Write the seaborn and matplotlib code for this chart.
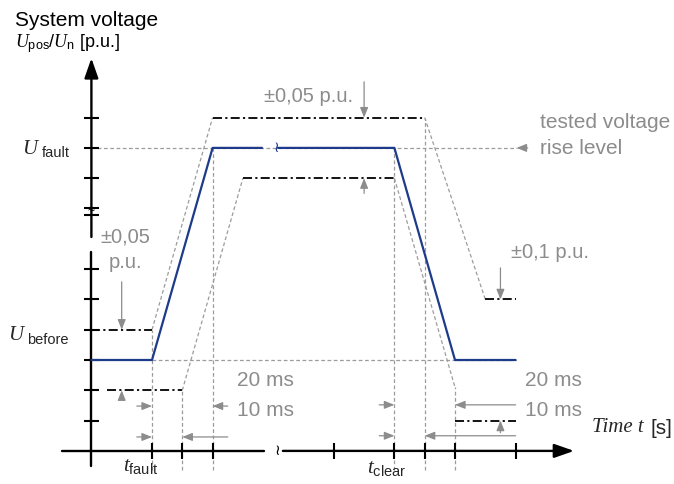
"""Voltage ride-through test profile (system voltage vs time) drawn with seaborn."""

import matplotlib

matplotlib.use("Agg")

import matplotlib.pyplot as plt
import pandas as pd
import seaborn as sns

# Time axis is drawn compressed (ms): t_fault sits at 0, t_clear is drawn at 80.
# Voltage in p.u. with U_before = 1.00 and U_fault drawn at 1.35 (axis broken).
voltage_time = [-20, 0, 20, 36.3, 41.6, 80, 100, 120]
voltage_level = [1.00, 1.00, 1.35, 1.35, 1.35, 1.35, 1.00, 1.00]
voltage_piece = [0, 0, 0, 0, 1, 1, 1, 1]

upper_time = [-20, 0, 20, 90, 110, 120]
upper_level = [1.05, 1.05, 1.40, 1.40, 1.10, 1.10]
upper_piece = [0, 0, 1, 1, 2, 2]

lower_time = [-15, 10, 30, 80, 100, 120]
lower_level = [0.95, 0.95, 1.30, 1.30, 0.90, 0.90]
lower_piece = [0, 0, 1, 1, 2, 2]

ramp_t0 = [0, 10, 90, 80]
ramp_u0 = [1.05, 0.95, 1.40, 1.30]
ramp_t1 = [20, 30, 110, 100]
ramp_u1 = [1.40, 1.30, 1.10, 0.955]

marker_time = [0, 10, 20, 80, 90, 100]
marker_top = [1.05, 0.95, 1.35, 1.35, 1.40, 0.955]
marker_bottom = 0.818

ref_level = [1.35, 1.00]
ref_start = [-20, 0]
ref_end = [120.5, 120]

y_ticks = [0.90, 0.95, 1.00, 1.05, 1.10, 1.15, 1.30, 1.35, 1.40]
x_ticks = [0, 10, 20, 60, 80, 90, 100, 120]

tol_time = [70, 70, -10, -10, 115, 115]
tol_start = [1.459, 1.275, 1.129, 0.937, 1.152, 0.88]
tol_target = [1.40, 1.30, 1.05, 0.95, 1.10, 0.90]

dur_level = [0.924, 0.924, 0.873, 0.873, 0.926, 0.926, 0.875, 0.875]
dur_from = [-5, 25, -5, 25, 75, 120, 75, 120]
dur_to = [0, 20, 0, 10, 80, 100, 80, 90]

W, H = 674, 484
X0_PX, PX_PER_MS = 152, 3.03
Y0_PX, PX_PER_PU = 360, 606

BLUE = "#1e3a8a"
GREY = "#8c8c8c"
LINE_GREY = "#9c9c9c"

sns.set_theme(style="white")
plt.rcParams["font.family"] = ["Liberation Sans", "DejaVu Sans"]
plt.rcParams["mathtext.fontset"] = "custom"
plt.rcParams["mathtext.rm"] = "Liberation Sans"
plt.rcParams["mathtext.it"] = "Liberation Serif:italic"
plt.rcParams["mathtext.bf"] = "Liberation Sans:bold"

fig = plt.figure(figsize=(W / 100, H / 100), dpi=100)
ax = fig.add_axes([0, 0, 1, 1])
ax.set_xlim((0 - X0_PX) / PX_PER_MS, (W - X0_PX) / PX_PER_MS)
ax.set_ylim(1 - (H - Y0_PX) / PX_PER_PU, 1 + Y0_PX / PX_PER_PU)
ax.axis("off")

dash = dict(color=LINE_GREY, lw=0.9, linestyle=(0, (3, 2)))
dashdot = (0, (5, 1.8, 1.2, 1.8))

# reference levels and time markers
ax.hlines(ref_level, ref_start, ref_end, colors=LINE_GREY, lw=0.9, linestyles=(0, (3, 2)), zorder=1)
ax.vlines(marker_time, marker_bottom, marker_top, colors=LINE_GREY, lw=0.9, linestyles=(0, (3, 2)), zorder=1)
for t0, u0, t1, u1 in zip(ramp_t0, ramp_u0, ramp_t1, ramp_u1):
    ax.plot([t0, t1], [u0, u1], zorder=1, **dash)

# tolerance envelope (flat parts, dash-dot)
upper = pd.DataFrame({"t": upper_time, "u": upper_level, "piece": upper_piece})
lower = pd.DataFrame({"t": lower_time, "u": lower_level, "piece": lower_piece})
for band in (upper, lower):
    sns.lineplot(data=band, x="t", y="u", units="piece", estimator=None, sort=False,
                 color="black", lw=1.3, linestyle=dashdot, ax=ax, zorder=2)

# tested voltage profile
profile = pd.DataFrame({"t": voltage_time, "u": voltage_level, "piece": voltage_piece})
sns.lineplot(data=profile, x="t", y="u", units="piece", estimator=None, sort=False,
             color=BLUE, lw=1.6, ax=ax, zorder=3)
ax.text(40.9, 1.35, "≀", color=BLUE, fontsize=11, ha="center", va="center",
        family=["DejaVu Sans"], zorder=4)

# axes with breaks
axis_kw = dict(color="black", lw=1.7)
ax.plot([-20, -20], [0.825, 1.178], **axis_kw)
ax.annotate("", xy=(-20, 1.498), xytext=(-20, 1.203),
            arrowprops=dict(arrowstyle="-|>,head_length=1.0,head_width=0.35", color="black",
                            lw=1.7, shrinkA=0, shrinkB=0, mutation_scale=12))
ax.plot([-29.7, 37.0], [0.85, 0.85], **axis_kw)
ax.annotate("", xy=(139.3, 0.85), xytext=(43.2, 0.85),
            arrowprops=dict(arrowstyle="-|>,head_length=1.0,head_width=0.35", color="black",
                            lw=1.7, shrinkA=0, shrinkB=0, mutation_scale=12))
ax.text(41.4, 0.85, "≀", color="black", fontsize=11, ha="center", va="center", family=["DejaVu Sans"])
ax.hlines(y_ticks, -22.6, -17.4, colors="black", lw=1.5)
ax.vlines(x_ticks, 0.837, 0.863, colors="black", lw=1.5)
ax.hlines([1.250, 1.240], -22.6, -17.4, colors="black", lw=1.5)
ax.text(-20, 1.245, "~", color="black", fontsize=9, ha="center", va="center")

small_arrow = dict(arrowstyle="-|>,head_length=0.5,head_width=0.2", color=GREY, lw=0.9,
                   shrinkA=0, shrinkB=0, mutation_scale=12)
for t, u0, u1 in zip(tol_time, tol_start, tol_target):
    ax.annotate("", xy=(t, u1), xytext=(t, u0), arrowprops=small_arrow)
for u, t0, t1 in zip(dur_level, dur_from, dur_to):
    ax.annotate("", xy=(t1, u), xytext=(t0, u), arrowprops=small_arrow)
ax.annotate("", xy=(120.3, 1.35), xytext=(124.0, 1.35), arrowprops=small_arrow)


def label(px, py, s, **kw):
    fig.text(px / W, 1 - py / H, s, va="center", **kw)


label(15, 21, "System voltage", fontsize=15, color="black")
label(15, 44, r"$U_{\mathrm{pos}}/U_{\mathrm{n}}$ [p.u.]", fontsize=13, color="black")
label(22, 150, "U", fontsize=15, family="Liberation Serif", style="italic")
label(42, 153, "fault", fontsize=10.5)
label(8, 336, "U", fontsize=15, family="Liberation Serif", style="italic")
label(27, 340, "before", fontsize=10.5)
label(141, 467, r"$t_{\mathrm{fault}}$", fontsize=15, ha="center")
label(387, 469, r"$t_{\mathrm{clear}}$", fontsize=15, ha="center")
label(592, 428, "Time t", fontsize=15, family="Liberation Serif", style="italic")
label(650, 428, "[s]", fontsize=15)

label(309, 97, "±0,05 p.u.", fontsize=14.5, color=GREY, ha="center")
label(125, 237, "±0,05", fontsize=14.5, color=GREY, ha="center")
label(125, 263, "p.u.", fontsize=14.5, color=GREY, ha="center")
label(511, 253, "±0,1 p.u.", fontsize=14.5, color=GREY)
label(540, 123, "tested voltage", fontsize=15, color=GREY)
label(540, 148, "rise level", fontsize=15, color=GREY)
label(237, 380, "20 ms", fontsize=15, color=GREY)
label(237, 411, "10 ms", fontsize=15, color=GREY)
label(525, 380, "20 ms", fontsize=15, color=GREY)
label(525, 410, "10 ms", fontsize=15, color=GREY)

fig.savefig("out.png", dpi=100)
